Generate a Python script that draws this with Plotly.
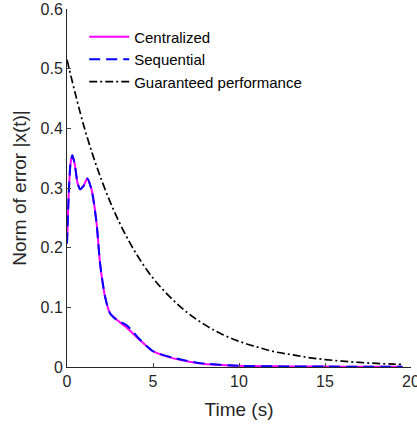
import plotly.graph_objects as go

# Centralized / sequential error norm
t_err = [0, 0.1, 0.2, 0.31, 0.45, 0.6, 0.76, 0.95, 1.18, 1.43, 1.72, 1.92, 2.21, 2.5, 2.89, 3.47, 4.24, 5.02, 6.18, 7.73, 10, 12.5, 15, 17.5, 19.5]
central = [0.207, 0.29, 0.34, 0.355, 0.34, 0.31, 0.298, 0.303, 0.316, 0.297, 0.241, 0.174, 0.118, 0.09, 0.079, 0.066, 0.045, 0.026, 0.0145, 0.006, 0.002, 0.001, 0.0007, 0.0005, 0.0004]
sequential = [0.207, 0.29, 0.34, 0.355, 0.34, 0.31, 0.298, 0.303, 0.316, 0.297, 0.241, 0.174, 0.118, 0.09, 0.079, 0.070, 0.046, 0.026, 0.0155, 0.0065, 0.002, 0.001, 0.0007, 0.0005, 0.0004]

# Guaranteed performance bound
t_bound = [0, 1, 2, 3, 4, 5, 6, 7, 8, 9, 10, 11, 12, 13, 14, 15, 16, 17, 18, 19, 19.5]
bound = [0.515, 0.402, 0.314, 0.245, 0.191, 0.149, 0.117, 0.091, 0.071, 0.055, 0.043, 0.034, 0.026, 0.021, 0.016, 0.0125, 0.0098, 0.0076, 0.006, 0.0047, 0.0042]

x_ticks = [0, 5, 10, 15, 20]
y_ticks = [0, 0.1, 0.2, 0.3, 0.4, 0.5, 0.6]
y_tick_labels = ["0", "0.1", "0.2", "0.3", "0.4", "0.5", "0.6"]

font_family = "Liberation Sans, Arial, sans-serif"

fig = go.Figure()
fig.add_trace(go.Scatter(x=t_err, y=central, mode="lines", name="Centralized",
                         line=dict(color="#ff00ff", width=2, shape="spline", smoothing=0.6)))
fig.add_trace(go.Scatter(x=t_err, y=sequential, mode="lines", name="Sequential",
                         line=dict(color="#0000ff", width=2, dash="11px,6px", shape="spline", smoothing=0.6)))
fig.add_trace(go.Scatter(x=t_bound, y=bound, mode="lines", name="Guaranteed performance",
                         line=dict(color="black", width=1.7, dash="8px,3px,2px,3px", shape="spline")))

fig.update_layout(
    width=417, height=426,
    margin=dict(l=67, r=6, t=9, b=59, autoexpand=False),
    paper_bgcolor="white", plot_bgcolor="white",
    font=dict(family=font_family, size=16, color="#262626"),
    showlegend=True,
    legend=dict(x=0.05, y=0.968, xanchor="left", yanchor="top",
                bgcolor="rgba(0,0,0,0)", font=dict(size=15, color="black"),
                tracegroupgap=0, itemwidth=40),
)
fig.update_xaxes(range=[0, 20], tickvals=x_ticks, ticks="inside", ticklen=4,
                 showline=True, linecolor="#262626", linewidth=1, showgrid=False, zeroline=False,
                 ticklabeloverflow="allow", automargin=False,
                 title=dict(text="Time (s)", standoff=13), tickfont=dict(size=16))
fig.update_yaxes(range=[0, 0.6], tickvals=y_ticks, ticktext=y_tick_labels, ticks="inside", ticklen=4,
                 showline=True, linecolor="#262626", linewidth=1, showgrid=False, zeroline=False,
                 automargin=False,
                 title=dict(text="Norm of error |x(t)|", standoff=8), tickfont=dict(size=16))

fig.write_html("out.html")
